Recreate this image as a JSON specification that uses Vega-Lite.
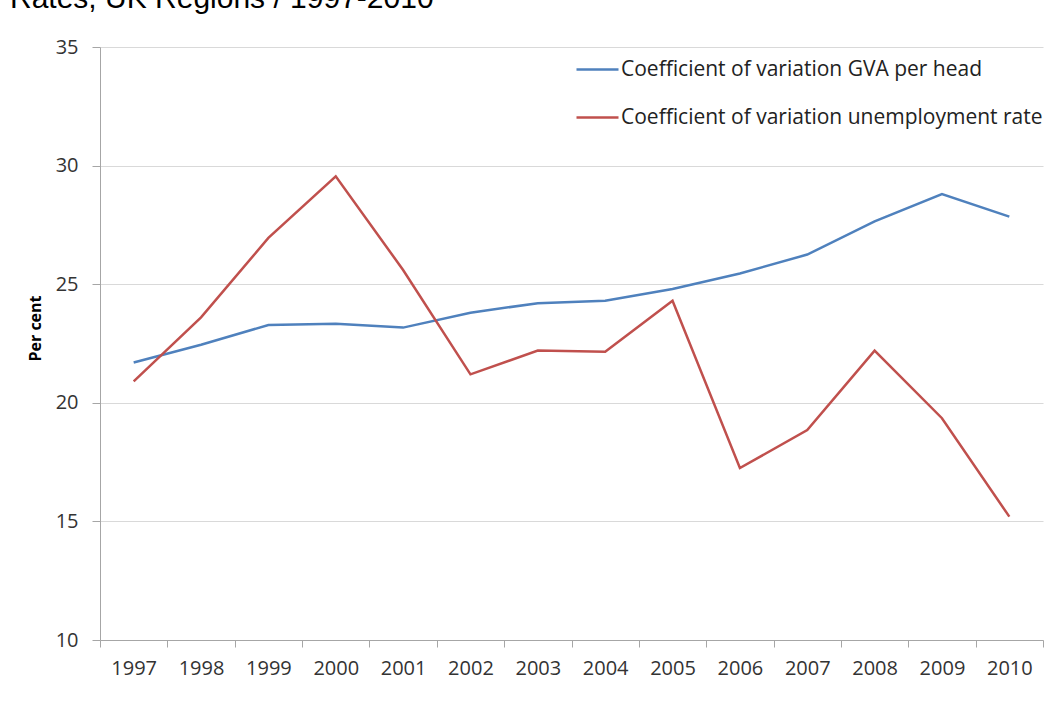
{
  "$schema": "https://vega.github.io/schema/vega-lite/v6.json",
  "width": 943,
  "height": 593,
  "autosize": {"type": "none"},
  "padding": {"left": 100, "top": 47, "right": 12, "bottom": 82},
  "background": "white",
  "title": {
    "text": "Rates, UK Regions / 1997-2010",
    "anchor": "start",
    "frame": "group",
    "dx": -90,
    "dy": 9,
    "fontSize": 30,
    "font": "Liberation Sans",
    "fontWeight": "normal",
    "color": "#000000",
    "baseline": "alphabetic",
    "offset": 8
  },
  "data": {
    "values": [
      {"year": "1997", "series": "Coefficient of variation GVA per head", "value": 21.7},
      {"year": "1998", "series": "Coefficient of variation GVA per head", "value": 22.45},
      {"year": "1999", "series": "Coefficient of variation GVA per head", "value": 23.28},
      {"year": "2000", "series": "Coefficient of variation GVA per head", "value": 23.33},
      {"year": "2001", "series": "Coefficient of variation GVA per head", "value": 23.17},
      {"year": "2002", "series": "Coefficient of variation GVA per head", "value": 23.8},
      {"year": "2003", "series": "Coefficient of variation GVA per head", "value": 24.2},
      {"year": "2004", "series": "Coefficient of variation GVA per head", "value": 24.3},
      {"year": "2005", "series": "Coefficient of variation GVA per head", "value": 24.8},
      {"year": "2006", "series": "Coefficient of variation GVA per head", "value": 25.45},
      {"year": "2007", "series": "Coefficient of variation GVA per head", "value": 26.25},
      {"year": "2008", "series": "Coefficient of variation GVA per head", "value": 27.65},
      {"year": "2009", "series": "Coefficient of variation GVA per head", "value": 28.8},
      {"year": "2010", "series": "Coefficient of variation GVA per head", "value": 27.85},
      {"year": "1997", "series": "Coefficient of variation unemployment rate", "value": 20.9},
      {"year": "1998", "series": "Coefficient of variation unemployment rate", "value": 23.6},
      {"year": "1999", "series": "Coefficient of variation unemployment rate", "value": 26.95},
      {"year": "2000", "series": "Coefficient of variation unemployment rate", "value": 29.55},
      {"year": "2001", "series": "Coefficient of variation unemployment rate", "value": 25.6},
      {"year": "2002", "series": "Coefficient of variation unemployment rate", "value": 21.2},
      {"year": "2003", "series": "Coefficient of variation unemployment rate", "value": 22.2},
      {"year": "2004", "series": "Coefficient of variation unemployment rate", "value": 22.15},
      {"year": "2005", "series": "Coefficient of variation unemployment rate", "value": 24.3},
      {"year": "2006", "series": "Coefficient of variation unemployment rate", "value": 17.25},
      {"year": "2007", "series": "Coefficient of variation unemployment rate", "value": 18.85},
      {"year": "2008", "series": "Coefficient of variation unemployment rate", "value": 22.2},
      {"year": "2009", "series": "Coefficient of variation unemployment rate", "value": 19.35},
      {"year": "2010", "series": "Coefficient of variation unemployment rate", "value": 15.2}
    ]
  },
  "mark": {"type": "line", "strokeWidth": 2.5},
  "encoding": {
    "x": {
      "field": "year",
      "type": "ordinal",
      "bandPosition": 0.5,
      "scale": {"type": "band", "paddingInner": 0, "paddingOuter": 0},
      "axis": {
        "title": null,
        "labelAngle": 0,
        "tickBand": "extent",
        "domainColor": "#a6a6a6",
        "tickColor": "#a6a6a6",
        "tickSize": 7,
        "labelPadding": 11,
        "labelFont": "Open Sans",
        "labelFontSize": 20,
        "labelColor": "#333333",
        "grid": false
      }
    },
    "y": {
      "field": "value",
      "type": "quantitative",
      "scale": {"domain": [10, 35], "nice": false, "zero": false},
      "axis": {
        "title": "Per cent",
        "titleFont": "Open Sans",
        "titleFontSize": 16,
        "titleFontWeight": "bold",
        "titleColor": "#000000",
        "titlePadding": 12,
        "titleY": 281,
        "values": [10, 15, 20, 25, 30, 35],
        "domainColor": "#a6a6a6",
        "tickColor": "#a6a6a6",
        "tickSize": 8,
        "labelPadding": 14,
        "labelFont": "Open Sans",
        "labelFontSize": 20,
        "labelColor": "#333333",
        "grid": true,
        "gridColor": "#d9d9d9",
        "gridWidth": 1
      }
    },
    "color": {
      "field": "series",
      "type": "nominal",
      "scale": {
        "domain": ["Coefficient of variation GVA per head", "Coefficient of variation unemployment rate"],
        "range": ["#4F81BD", "#C0504D"]
      },
      "legend": {
        "title": null,
        "orient": "top-right",
        "offset": 0,
        "padding": 0,
        "symbolType": "stroke",
        "symbolSize": 1764,
        "symbolStrokeWidth": 2.5,
        "rowPadding": 15,
        "labelFont": "Open Sans",
        "labelFontSize": 21,
        "labelColor": "#222222",
        "labelOffset": 1,
        "labelLimit": 600
      }
    }
  },
  "config": {
    "view": {"stroke": null}
  }
}
